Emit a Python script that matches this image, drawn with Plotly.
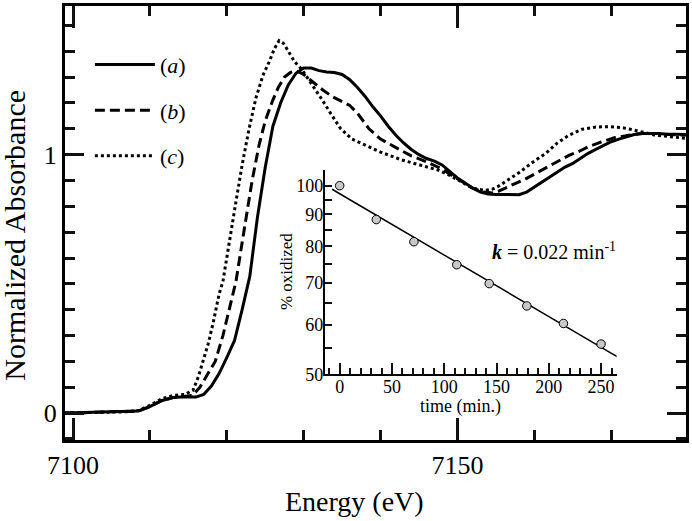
import plotly.graph_objects as go

# ---- main XANES spectra ----
energy_a = [7098.9, 7102, 7105, 7107, 7108.5, 7110, 7111.5, 7113, 7114.5, 7116, 7117, 7118, 7119,
            7120, 7121, 7122, 7123, 7124, 7125, 7126, 7127, 7128, 7129, 7130, 7131, 7132, 7133,
            7134, 7135, 7136, 7137, 7138, 7139, 7140, 7141, 7142, 7143, 7144, 7145, 7146, 7147,
            7148, 7149, 7150, 7151, 7152, 7153, 7154, 7155, 7156, 7157, 7158, 7159, 7160, 7161,
            7162, 7163, 7164, 7165, 7166, 7167, 7168, 7169, 7170, 7171, 7172, 7173, 7174, 7175,
            7176, 7177, 7178, 7179.7]
absorb_a = [0.0, 0.002, 0.003, 0.005, 0.008, 0.025, 0.048, 0.060, 0.063, 0.062, 0.072, 0.105, 0.153,
            0.215, 0.28, 0.40, 0.53, 0.76, 0.95, 1.11, 1.20, 1.27, 1.315, 1.335, 1.335, 1.325, 1.32,
            1.318, 1.31, 1.29, 1.26, 1.225, 1.185, 1.15, 1.11, 1.075, 1.045, 1.02, 1.0, 0.985, 0.975,
            0.96, 0.935, 0.91, 0.89, 0.87, 0.855, 0.848, 0.846, 0.845, 0.845, 0.845, 0.855, 0.875, 0.895,
            0.915, 0.935, 0.952, 0.966, 0.985, 1.005, 1.02, 1.035, 1.05, 1.06, 1.07, 1.078, 1.082, 1.083,
            1.082, 1.080, 1.080, 1.078]

energy_b = [7098.9, 7102, 7105, 7107, 7108.5, 7110, 7111.5, 7113, 7114.5, 7115.5, 7116.5, 7117.5,
            7118.5, 7119.5, 7120.5, 7121.2, 7122, 7122.5, 7123.3, 7124.2, 7125, 7125.9, 7126.7,
            7127.5, 7128.3, 7129, 7130, 7131.2, 7132.5, 7133.8, 7135, 7136, 7137, 7138.5, 7140,
            7141.5, 7142.7, 7144, 7145.5, 7147, 7148, 7149, 7150.5, 7152, 7153.5, 7154.5, 7155.3,
            7156.5, 7157.5, 7158.8, 7160, 7161.5, 7163, 7164.5, 7166, 7167, 7168.8, 7170.5, 7172.5,
            7174, 7176, 7177.5, 7179.7]
absorb_b = [0.0, 0.002, 0.003, 0.005, 0.008, 0.025, 0.048, 0.060, 0.064, 0.068, 0.10, 0.15,
            0.20, 0.30, 0.42, 0.51, 0.66, 0.755, 0.90, 1.037, 1.13, 1.204, 1.26,
            1.30, 1.318, 1.325, 1.31, 1.281, 1.25, 1.223, 1.205, 1.19, 1.16, 1.10, 1.06,
            1.035, 1.018, 0.995, 0.978, 0.96, 0.945, 0.925, 0.896, 0.87, 0.855, 0.852, 0.858,
            0.873, 0.888, 0.905, 0.925, 0.95, 0.975, 0.997, 1.015, 1.03, 1.05, 1.066, 1.076,
            1.082, 1.082, 1.078, 1.075]

energy_c = [7098.9, 7102, 7105, 7107, 7108.5, 7110, 7111.5, 7113, 7114.5, 7115.6, 7116.3, 7116.9,
            7117.6, 7118.2, 7119, 7119.5, 7120.3, 7121.2, 7122, 7122.9, 7123.8, 7124.7, 7125.5,
            7126.2, 7126.8, 7127.4, 7128, 7128.8, 7129.7, 7131, 7132.3, 7133.5, 7134.8, 7136.3,
            7138, 7140, 7142.7, 7145, 7147.4, 7149, 7150.5, 7152, 7153.6, 7154.5, 7155.3, 7156.5,
            7158, 7160, 7161.5, 7163, 7164.5, 7166.2, 7168, 7169.8, 7171.5, 7173, 7174.5, 7175.6,
            7177.5, 7179.7]
absorb_c = [0.0, 0.002, 0.003, 0.005, 0.01, 0.03, 0.055, 0.068, 0.072, 0.088, 0.14, 0.204,
            0.27, 0.345, 0.46, 0.51, 0.66, 0.819, 0.96, 1.10, 1.22, 1.306, 1.358,
            1.41, 1.441, 1.43, 1.40, 1.36, 1.332, 1.275, 1.217, 1.16, 1.101, 1.06,
            1.037, 1.01, 0.98, 0.96, 0.941, 0.92, 0.895, 0.87, 0.862, 0.866, 0.877, 0.9,
            0.93, 0.975, 1.005, 1.045, 1.075, 1.098, 1.107, 1.108, 1.104, 1.095, 1.085, 1.076,
            1.07, 1.063]

series_names = ["(<i>a</i>)", "(<i>b</i>)", "(<i>c</i>)"]
series_dash = ["solid", "10px,5px", "3px,3px"]

# ---- inset: kinetics ----
time_min = [0, 35, 71, 112, 143, 179, 214, 250]
pct_oxidized = [100, 88.3, 81.4, 74.8, 69.8, 64.3, 60.3, 55.9]
fit_time = [-7.3, 265.3]
fit_pct = [98.7, 53.4]

y_ticks_inset = [50, 55, 60, 65, 70, 75, 80, 85, 90, 95, 100]
y_ticktext_inset = ["50", "", "60", "", "70", "", "80", "", "90", "", "100"]

FONT = "Liberation Serif"
INK = "#000000"
TICK = "#111111"
W, H = 692, 521
ML, MR, MT, MB = 65, 3, 3, 81
PW, PH = W - ML - MR, H - MT - MB


def px_x(p):
    return (p - ML) / PW


def px_y(p):
    return (H - MB - p) / PH


fig = go.Figure()
for e, a, n, d in zip([energy_a, energy_b, energy_c], [absorb_a, absorb_b, absorb_c],
                      series_names, series_dash):
    fig.add_trace(go.Scatter(x=e, y=a, mode="lines", name=n, legendgroup=n,
                             line=dict(color=INK, width=3, dash=d)))

fig.add_trace(go.Scatter(x=fit_time, y=fit_pct, mode="lines", showlegend=False,
                         line=dict(color=INK, width=1.5), xaxis="x2", yaxis="y2"))
fig.add_trace(go.Scatter(x=time_min, y=pct_oxidized, mode="markers", showlegend=False,
                         marker=dict(size=8.5, color="#c8c8c8", line=dict(color=INK, width=1)),
                         xaxis="x2", yaxis="y2"))

fig.update_layout(
    width=W, height=H,
    margin=dict(l=ML, r=MR, t=MT, b=MB),
    paper_bgcolor="white", plot_bgcolor="rgba(0,0,0,0)",
    xaxis=dict(range=[7098.96, 7179.73], showline=True, linewidth=3, linecolor=INK,
               mirror="ticks", ticks="inside", ticklen=22, tickwidth=3, tickcolor=TICK,
               tick0=7100, dtick=50, showgrid=False, zeroline=False,
               tickfont=dict(family=FONT, size=26, color=INK),
               minor=dict(dtick=10, ticks="inside", ticklen=10, tickwidth=3, tickcolor=TICK)),
    yaxis=dict(range=[-0.104, 1.575], showline=True, linewidth=3, linecolor=INK,
               mirror="ticks", ticks="inside", ticklen=19, tickwidth=3, tickcolor=TICK,
               tick0=0, dtick=1, showgrid=False, zeroline=False,
               tickfont=dict(family=FONT, size=26, color=INK),
               minor=dict(dtick=0.1, ticks="inside", ticklen=10, tickwidth=3, tickcolor=TICK)),
    xaxis2=dict(domain=[px_x(326), px_x(619.3)], anchor="y2", range=[-14.3, 264.9],
                showgrid=False, zeroline=False, showline=True, linewidth=2, linecolor=INK,
                ticks="inside", ticklen=11, tickwidth=1.5, tickcolor=TICK,
                tick0=0, dtick=50, ticklabelstandoff=-5,
                tickfont=dict(family=FONT, size=18, color=INK),
                minor=dict(dtick=10, ticks="inside", ticklen=6, tickwidth=1.5, tickcolor=TICK)),
    yaxis2=dict(domain=[px_y(374), px_y(168)], anchor="x2", type="log",
                range=[1.69897, 2.0252],
                showgrid=False, zeroline=False, showline=True, linewidth=2, linecolor=INK,
                ticks="inside", ticklen=7, tickwidth=1.5, tickcolor=TICK,
                tickmode="array", tickvals=y_ticks_inset, ticktext=y_ticktext_inset,
                ticklabelstandoff=-4,
                tickfont=dict(family=FONT, size=18, color=INK)),
    showlegend=True,
    legend=dict(x=px_x(90), y=px_y(41), xanchor="left", yanchor="top",
                bgcolor="rgba(0,0,0,0)", font=dict(family=FONT, size=22, color=INK),
                tracegroupgap=14, itemwidth=60),
    annotations=[
        dict(text="Energy (eV)", xref="paper", yref="paper", x=px_x(356), y=px_y(502),
             showarrow=False, xanchor="center", yanchor="middle",
             font=dict(family=FONT, size=28, color=INK)),
        dict(text="Normalized Absorbance", xref="paper", yref="paper", x=px_x(14), y=px_y(234),
             showarrow=False, xanchor="center", yanchor="middle", textangle=-90,
             font=dict(family=FONT, size=30, color=INK)),
        dict(text="<b><i>k</i></b> = 0.022 min<sup>-1</sup>", xref="paper", yref="paper",
             x=px_x(556), y=px_y(250), showarrow=False, xanchor="center", yanchor="middle",
             font=dict(family=FONT, size=20, color=INK)),
        dict(text="time (min.)", xref="paper", yref="paper", x=px_x(462), y=px_y(406),
             showarrow=False, xanchor="center", yanchor="middle",
             font=dict(family=FONT, size=18, color=INK)),
        dict(text="% oxidized", xref="paper", yref="paper", x=px_x(287), y=px_y(270),
             showarrow=False, xanchor="center", yanchor="middle", textangle=-90,
             font=dict(family=FONT, size=17, color=INK)),
    ],
)

fig.write_html("out.html", post_script="document.body.style.margin='0px';",
               config={"displayModeBar": False})
